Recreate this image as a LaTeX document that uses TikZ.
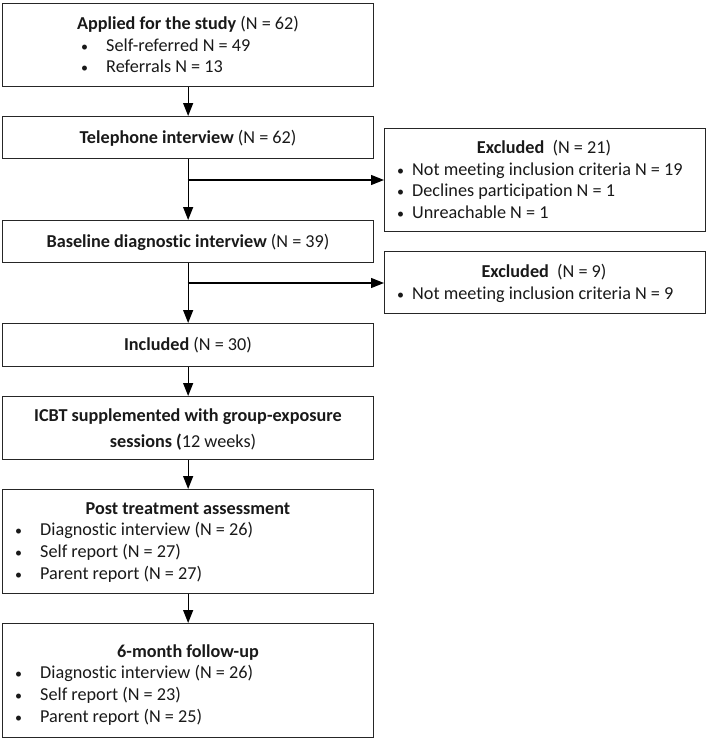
\documentclass[tikz,border=0pt]{standalone}
\usepackage{fontspec}
\setmainfont[RawFeature={-liga;-dlig;-clig}]{Carlito}
\usetikzlibrary{arrows.meta}
\begin{document}
\begin{tikzpicture}[x=1pt,y=-1pt,
  box/.style={draw=black!85, line width=1.3pt, anchor=north west, inner sep=0pt},
  txt/.style={inner sep=0pt, text height=12pt, text depth=3.5pt, font=\fontsize{18.2}{21}\selectfont, text=black!90, yshift=-2.5pt},
  ltxt/.style={txt, anchor=west},
  arr/.style={line width=1.3pt, -{Triangle[length=13pt,width=10pt]}}]
\useasboundingbox (0,0) rectangle (707,739);
\newcommand{\bl}[2]{\makebox[#1][l]{\raisebox{0.5pt}{\fontsize{14}{14}\selectfont •}}#2}
% boxes
\node[box, minimum width=371pt, minimum height=83pt] (b1) at (2,3) {};
\node[box, minimum width=371pt, minimum height=42pt] (b2) at (2,116) {};
\node[box, minimum width=371pt, minimum height=42pt] (b3) at (2,220) {};
\node[box, minimum width=371pt, minimum height=43pt] (b4) at (2,323) {};
\node[box, minimum width=371pt, minimum height=63pt] (b5) at (2,396) {};
\node[box, minimum width=371pt, minimum height=104pt] (b6) at (2,489) {};
\node[box, minimum width=371pt, minimum height=114pt] (b7) at (2,623) {};
\node[box, minimum width=321pt, minimum height=103pt] (e1) at (384,128) {};
\node[box, minimum width=321pt, minimum height=62pt] (e2) at (384,251) {};
% texts
\node[txt] (t1) at (188,23) {\textbf{Applied for the study} (N = 62)};
\node[ltxt] (t1a) at (81,45) {\bl{25pt}{Self-referred N = 49}};
\node[ltxt] (t1b) at (81,66) {\bl{25pt}{Referrals N = 13}};
\node[txt] (t2) at (188,137) {\textbf{Telephone interview} (N = 62)};
\node[txt] (t3) at (188,241) {\textbf{Baseline diagnostic interview} (N = 39)};
\node[txt] (t4) at (188,344) {\textbf{Included} (N = 30)};
\node[txt] (t5a) at (188,415) {\textbf{ICBT supplemented with group-exposure}};
\node[txt] (t5b) at (183,441) {\textbf{sessions (}12 weeks)};
\node[txt] (t6) at (188,508) {\textbf{Post treatment assessment}};
\node[ltxt] (t6a) at (15,529) {\bl{25pt}{Diagnostic interview (N = 26)}};
\node[ltxt] (t6b) at (15,551) {\bl{25pt}{Self report (N = 27)}};
\node[ltxt] (t6c) at (15,573) {\bl{25pt}{Parent report (N = 27)}};
\node[txt] (t7) at (188,651) {\textbf{6-month follow-up}};
\node[ltxt] (t7a) at (15,672) {\bl{25pt}{Diagnostic interview (N = 26)}};
\node[ltxt] (t7b) at (15,694) {\bl{25pt}{Self report (N = 23)}};
\node[ltxt] (t7c) at (15,716) {\bl{25pt}{Parent report (N = 25)}};
\node[txt] (te1) at (544,147) {\textbf{Excluded}\ \ (N = 21)};
\node[ltxt] (te1a) at (397,169) {\bl{15pt}{Not meeting inclusion criteria N = 19}};
\node[ltxt] (te1b) at (397,190) {\bl{15pt}{Declines participation N = 1}};
\node[ltxt] (te1c) at (397,212) {\bl{15pt}{Unreachable N = 1}};
\node[txt] (te2) at (544,271) {\textbf{Excluded}\ \ (N = 9)};
\node[ltxt] (te2a) at (397,293) {\bl{15pt}{Not meeting inclusion criteria N = 9}};
% connectors
\coordinate (j1) at (187.5,180);
\coordinate (j2) at (187.5,283);
\draw[arr] (b1) -- (b2);
\draw[arr] (b2) -- (b3);
\draw[arr] (j1) -- (j1 -| e1.west);
\draw[arr] (b3) -- (b4);
\draw[arr] (j2) -- (j2 -| e2.west);
\draw[arr] (b4) -- (b5);
\draw[arr] (b5) -- (b6);
\draw[arr] (b6) -- (b7);
\end{tikzpicture}
\end{document}
